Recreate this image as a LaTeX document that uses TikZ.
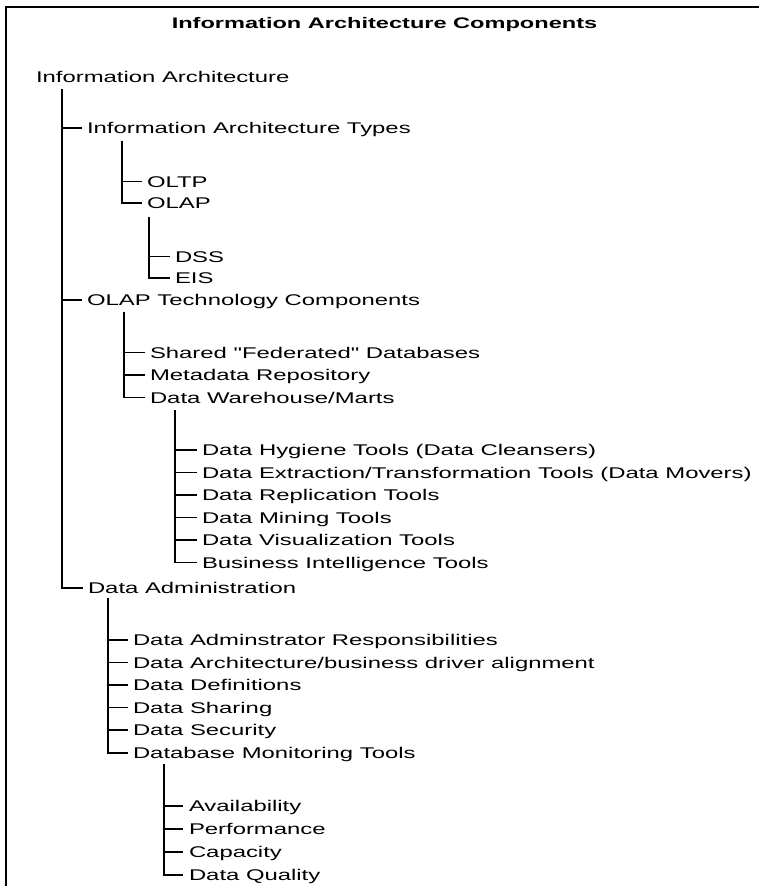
\documentclass[tikz,border=0pt]{standalone}
\usepackage{fontspec}
\setmainfont{Liberation Sans}[FakeStretch=1.54,Ligatures=TeXOff]
\tikzset{%
	item/.style={anchor=west,inner sep=0pt,outer sep=0pt,text height=11.3pt,text depth=0pt,font=\fontsize{15.5}{18}\selectfont},
	head/.style={anchor=center,inner sep=0pt,text height=10.7pt,text depth=0pt,font=\fontsize{15.3}{18}\selectfont\bfseries},
	branch/.style={black,line width=1.4pt},
}

\begin{document}
\begin{tikzpicture}[x=1pt,y=-1pt]
			\useasboundingbox (0,0) rectangle (758,886);
			\draw[black, line width=2.4pt] (760,7) -- (6,7) -- (6,890);
			
			%TITLE
			\node[head] (title) at (384.5,23.5) {Information Architecture Components};
			
			%LEVEL 0 + 1
			\node[item] (ia) at (36,77) {Information Architecture};
			\node[item] (iat) at (87,128) {Information Architecture Types};
			\node[item] (otc) at (87,300) {OLAP Technology Components};
			\node[item] (da) at (88,588) {Data Administration};
			
			%TYPES
			\node[item] (oltp) at (147,181.5) {OLTP};
			\node[item] (olap) at (147,203) {OLAP};
			\node[item] (dss) at (175,256.5) {DSS};
			\node[item] (eis) at (175,278) {EIS};
			
			%OLAP TECHNOLOGY
			\node[item] (shared) at (150,352.5) {Shared "Federated" Databases};
			\node[item] (meta) at (150,375) {Metadata Repository};
			\node[item] (dw) at (150,397.5) {Data Warehouse/Marts};
			\node[item] (hyg) at (202,450) {Data Hygiene Tools (Data Cleansers)};
			\node[item] (ext) at (202,472.5) {Data Extraction/Transformation Tools (Data Movers)};
			\node[item] (rep) at (202,495) {Data Replication Tools};
			\node[item] (mine) at (202,517.5) {Data Mining Tools};
			\node[item] (vis) at (202,540) {Data Visualization Tools};
			\node[item] (bi) at (202,562.5) {Business Intelligence Tools};
			
			%DATA ADMINISTRATION
			\node[item] (dar) at (133,640) {Data Adminstrator Responsibilities};
			\node[item] (arch) at (133,662.5) {Data Architecture/business driver alignment};
			\node[item] (def) at (133,685) {Data Definitions};
			\node[item] (share) at (133,707.5) {Data Sharing};
			\node[item] (sec) at (133,730) {Data Security};
			\node[item] (dmt) at (133,753) {Database Monitoring Tools};
			\node[item] (avail) at (189,806) {Availability};
			\node[item] (perf) at (189,829) {Performance};
			\node[item] (cap) at (189,852) {Capacity};
			\node[item] (dq) at (189,875) {Data Quality};
			
			%BRANCHES
			\coordinate (iaTop) at (62,89);
			\coordinate (iatTop) at (122,141);
			\coordinate (olapTop) at (149,217);
			\coordinate (otcTop) at (124,312);
			\coordinate (dwTop) at (175,410);
			\coordinate (daTop) at (108,598);
			\coordinate (dmtTop) at (164,764);
			
			\draw[branch] (iaTop) |- ([xshift=-5pt]da.west); %glavna veja
			\foreach \n in {iat,otc}
				\draw[branch] (iaTop |- \n.west) -- ([xshift=-5pt]\n.west);
			
			\draw[branch] (iatTop) |- ([xshift=-5pt]olap.west);
			\draw[branch] (iatTop |- oltp.west) -- ([xshift=-5pt]oltp.west);
			
			\draw[branch] (olapTop) |- ([xshift=-5pt]eis.west);
			\draw[branch] (olapTop |- dss.west) -- ([xshift=-5pt]dss.west);
			
			\draw[branch] (otcTop) |- ([xshift=-5pt]dw.west);
			\foreach \n in {shared,meta}
				\draw[branch] (otcTop |- \n.west) -- ([xshift=-5pt]\n.west);
			
			\draw[branch] (dwTop) |- ([xshift=-5pt]bi.west);
			\foreach \n in {hyg,ext,rep,mine,vis}
				\draw[branch] (dwTop |- \n.west) -- ([xshift=-5pt]\n.west);
			
			\draw[branch] (daTop) |- ([xshift=-5pt]dmt.west);
			\foreach \n in {dar,arch,def,share,sec}
				\draw[branch] (daTop |- \n.west) -- ([xshift=-5pt]\n.west);
			
			\draw[branch] (dmtTop) |- ([xshift=-6pt]dq.west);
			\foreach \n in {avail,perf,cap}
				\draw[branch] (dmtTop |- \n.west) -- ([xshift=-6pt]\n.west);
			
\end{tikzpicture}
\end{document}
